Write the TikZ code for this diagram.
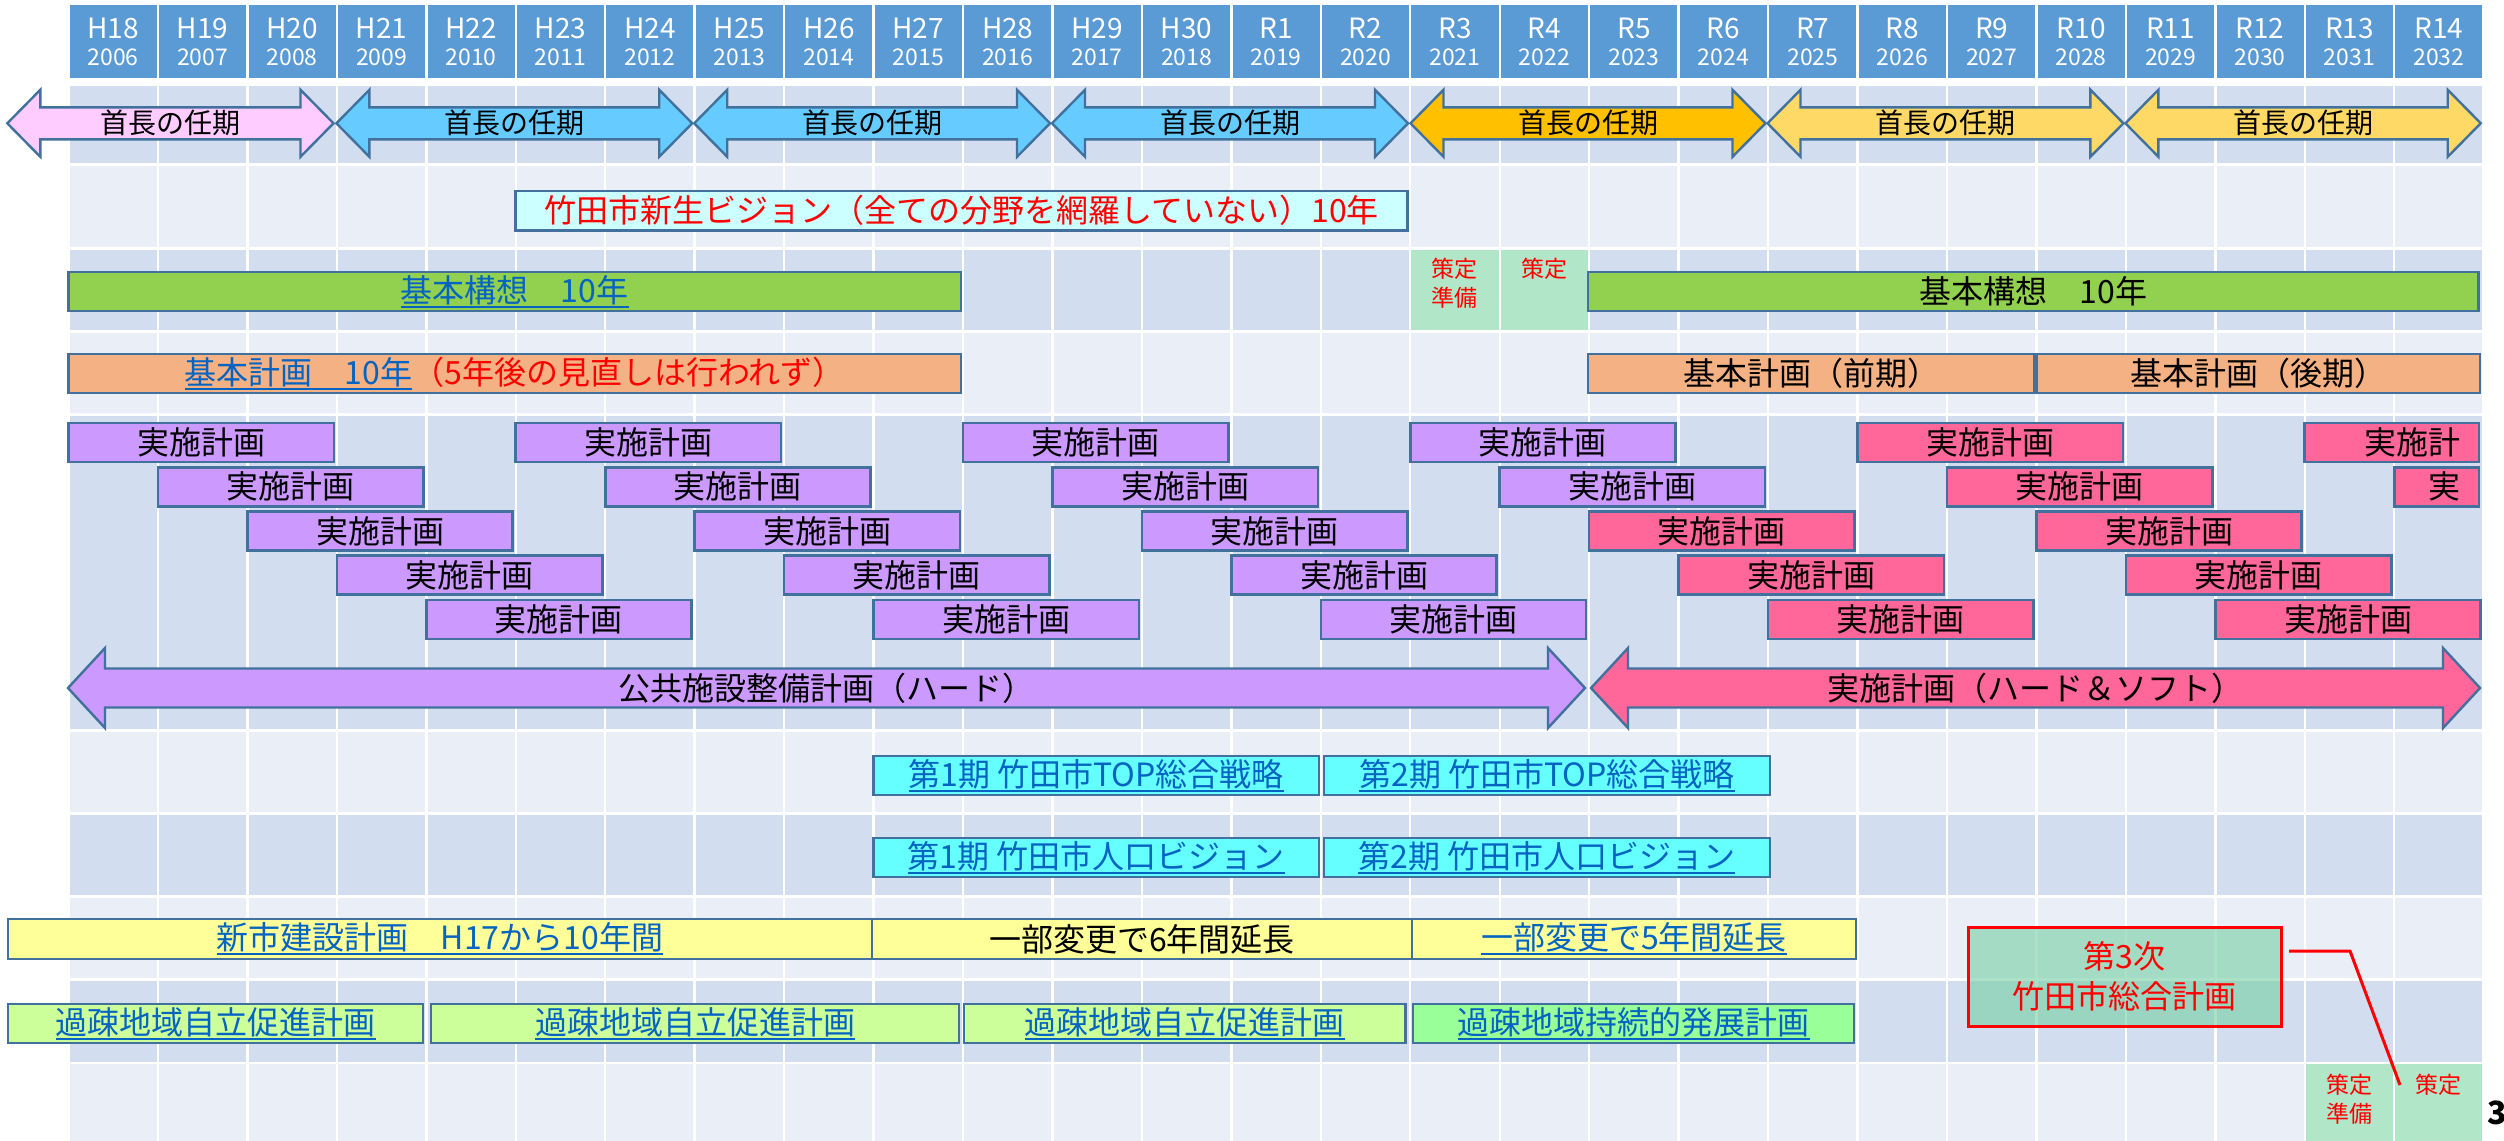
\documentclass[tikz,border=0pt]{standalone}
\usepackage{fontspec}
\setmainfont{Noto Sans CJK JP}
\definecolor{bdark}{HTML}{D2DEEF}
\definecolor{blight}{HTML}{EAEFF7}
\definecolor{hdr}{HTML}{5B9BD5}
\definecolor{olbl}{HTML}{41719C}
\definecolor{pinkT}{HTML}{FFCCFF}
\definecolor{blueT}{HTML}{66CCFF}
\definecolor{orT}{HTML}{FFC000}
\definecolor{yeT}{HTML}{FFD966}
\definecolor{visF}{HTML}{CCFFFF}
\definecolor{grn}{HTML}{92D050}
\definecolor{ora}{HTML}{F4B183}
\definecolor{mint}{HTML}{B2E6C8}
\definecolor{purp}{HTML}{CC99FF}
\definecolor{pnk}{HTML}{FF6699}
\definecolor{cyanF}{HTML}{66FFFF}
\definecolor{yel}{HTML}{FFFF99}
\definecolor{lg}{HTML}{CCFF99}
\definecolor{lgb}{HTML}{99FF99}
\definecolor{lnk}{HTML}{0563C1}
\definecolor{gthree}{HTML}{74CFA2}
\newsavebox\ulbox
\newcommand\UL[1]{\sbox\ulbox{#1}\rlap{\rule[-2.6pt]{\wd\ulbox}{1pt}}\usebox\ulbox}
\newcommand\CX[1]{\fpeval{68.5+89.45*(#1)}}
\newcommand\BX[8]{\node[boxst,fill=#6,text=#7,minimum width=\fpeval{((#4)-(#2))*0.5}pt,minimum height=\fpeval{((#5)-(#3))*0.5}pt] (#1) at ({\fpeval{((#2)+(#4))/2}},{\fpeval{((#3)+(#5))/2}}) {#8};}
\newcommand\DA[7]{\filldraw[fill=#7,draw=olbl,line width=1.2pt,line join=miter] ({#1},{#3}) -- ({#1+#4},{#3-#5}) -- ({#1+#4},{#3-#6}) -- ({#2-#4},{#3-#6}) -- ({#2-#4},{#3-#5}) -- ({#2},{#3}) -- ({#2-#4},{#3+#5}) -- ({#2-#4},{#3+#6}) -- ({#1+#4},{#3+#6}) -- ({#1+#4},{#3+#5}) -- cycle;}
\tikzset{
 tt/.style={font=\fontsize{16}{19}\selectfont, inner sep=0pt, outer sep=0pt},
 tterm/.style={font=\fontsize{14}{17}\selectfont, inner sep=0pt},
 boxst/.style={draw=olbl, line width=1.3pt, inner sep=0pt, outer sep=0pt, font=\fontsize{16}{19}\selectfont},
 hdA/.style={text=white, font=\fontsize{14}{16}\selectfont, inner sep=0pt},
 hdB/.style={text=white, font=\fontsize{11.5}{13}\selectfont, inner sep=0pt},
 sakutei/.style={text=red, font=\fontsize{11.5}{14.5}\selectfont, align=center, inner sep=0pt, anchor=north},
}
\begin{document}
\begin{tikzpicture}[x=0.5pt,y=-0.5pt]
\useasboundingbox (0,0) rectangle (2504,1140);
\fill[white] (0,0) rectangle (2504,1140);
% header
\foreach \i in {0,...,26}{
  \fill[hdr] ({\CX{\i}+1.2},4.5) rectangle ({\CX{\i+1}-1.2},77.5);
  \node[hdA] (hA\i) at ({\CX{\i+0.5}},28) {\ifnum\i<13 H\the\numexpr\i+18\relax\else R\the\numexpr\i-12\relax\fi};
  \node[hdB] (hB\i) at ({\CX{\i+0.5}},57.5) {\the\numexpr\i+2006\relax};
}
% bands
\foreach \t/\b/\c in {86/163/bdark,166/246.5/blight,249.5/330/bdark,333/413/blight,416/729/bdark,732/812/blight,815/895/bdark,898/978/blight,981/1062/bdark,1064/1141/blight}{
  \foreach \i in {0,...,26}{\fill[\c] ({\CX{\i}+1.2},\t) rectangle ({\CX{\i+1}-1.2},\b);}
}
% mint cells
\foreach \i in {15,16}{\fill[mint] ({\CX{\i}+1.2},249.5) rectangle ({\CX{\i+1}-1.2},330);}
\foreach \i in {25,26}{\fill[mint] ({\CX{\i}+1.2},1064) rectangle ({\CX{\i+1}-1.2},1141);}
\node[sakutei] (sk1) at ({\CX{15.5}},258) {策定\\準備};
\node[sakutei] (sk2) at ({\CX{16.5}},258) {策定};
\node[sakutei] (sk3) at ({\CX{25.5}},1074) {策定\\準備};
\node[sakutei] (sk4) at ({\CX{26.5}},1074) {策定};
% term arrows
\foreach \xl/\xr/\fc/\n in {7.3/333.5/pinkT/1, 336.4/692.2/blueT/2, 694.2/1050/blueT/3, 1052/1408/blueT/4, 1410.5/1765.5/orT/5, 1767.5/2123.4/yeT/6, 2125.4/2480.7/yeT/7}{
  \DA{\xl}{\xr}{123.3}{33}{33.5}{16}{\fc}
  \node[tterm] (term\n) at ({(\xl+\xr)/2},123.3) {首長の任期};
}
% vision
\BX{vis}{\CX{5}}{191}{\CX{15}-3}{230.5}{visF}{red}{竹田市新生ビジョン（全ての分野を網羅していない）10年}
% kihon koso
\BX{kkL}{\CX{0}}{272}{\CX{10}-2}{311}{grn}{lnk}{\UL{基本構想　10年}}
\BX{kkR}{\CX{17}-1}{272}{\CX{27}-5}{311}{grn}{black}{基本構想　10年}
% kihon keikaku
\BX{kpL}{\CX{0}}{354}{\CX{10}-2}{393}{ora}{lnk}{\UL{基本計画　10年}\textcolor{red}{（5年後の見直しは行われず）}}
\BX{kpA}{\CX{17}-1}{354}{\CX{22}-2}{393}{ora}{black}{基本計画（前期）}
\BX{kpB}{\CX{22}}{354}{\CX{27}-3.5}{393}{ora}{black}{基本計画（後期）}
% implementation plans
\foreach \s in {0,...,4}{\foreach \j in {0,...,4}{
  \pgfmathtruncatemacro\k{5*\s+\j}
  \ifnum\k<17 \def\fc{purp}\else\def\fc{pnk}\fi
  \BX{im\k}{\CX{\k}}{423+44.2*\j}{\CX{\k+3}-3}{462+44.2*\j}{\fc}{black}{実施計画}
}}
\BX{im25}{\CX{25}}{423}{2479}{462}{pnk}{black}{}
\node[tt] (im25t) at (2412,442.5) {実施計};
\BX{im26}{\CX{26}}{467.2}{2479}{506.2}{pnk}{black}{}
\node[tt] (im26t) at (2444,486.7) {実};
% big arrows
\DA{68}{1585}{688}{37}{40}{19.5}{purp}
\node[tt] (bigA) at (826,688) {公共施設整備計画（ハード）};
\DA{1591}{2480}{688}{37}{40}{19.5}{pnk}
\node[tt] (bigB) at (2035,688) {実施計画（ハード＆ソフト）};
% TOP & population vision
\BX{top1}{\CX{9}}{756}{\CX{14}-2}{795}{cyanF}{lnk}{\UL{第1期 竹田市TOP総合戦略}}
\BX{top2}{\CX{14}+3}{756}{\CX{19}+2}{795}{cyanF}{lnk}{\UL{第2期 竹田市TOP総合戦略}}
\BX{jk1}{\CX{9}}{838}{\CX{14}-2}{877}{cyanF}{lnk}{\UL{第1期 竹田市人口ビジョン}}
\BX{jk2}{\CX{14}+3}{838}{\CX{19}+2}{877}{cyanF}{lnk}{\UL{第2期 竹田市人口ビジョン}}
% shinshi
\BX{ss1}{8}{919}{872}{959}{yel}{lnk}{\UL{新市建設計画　H17から10年間}}
\BX{ss2}{872}{919}{1412}{959}{yel}{black}{一部変更で6年間延長}
\BX{ss3}{1412}{919}{1856}{959}{yel}{lnk}{\UL{一部変更で5年間延長}}
% kaso
\BX{ks1}{8}{1004}{423}{1043}{lg}{lnk}{\UL{過疎地域自立促進計画}}
\BX{ks2}{431}{1004}{959}{1043}{lg}{lnk}{\UL{過疎地域自立促進計画}}
\BX{ks3}{964}{1004}{1405.5}{1043}{lg}{lnk}{\UL{過疎地域自立促進計画}}
\BX{ks4}{1413}{1004}{1854}{1043}{lgb}{lnk}{\UL{過疎地域持続的発展計画}}
% third plan
\node[draw=red, line width=1.5pt, fill=gthree, fill opacity=0.6, text opacity=1, text=red, align=center, inner sep=0pt, minimum width=156.5pt, minimum height=49.5pt, font=\fontsize{16}{20}\selectfont] (p3) at (2124.5,976.5) {第3次\\竹田市総合計画};
\coordinate (c3a) at (2289,951);
\coordinate (c3b) at (2350,951);
\coordinate (c3c) at (2400,1085);
\draw[red, line width=1.5pt] (c3a) -- (c3b) -- (c3c);
% page number
\node[font=\bfseries\fontsize{16}{19}\selectfont, anchor=west, inner sep=0pt] (pg) at (2487,1113) {3};
\end{tikzpicture}
\end{document}
